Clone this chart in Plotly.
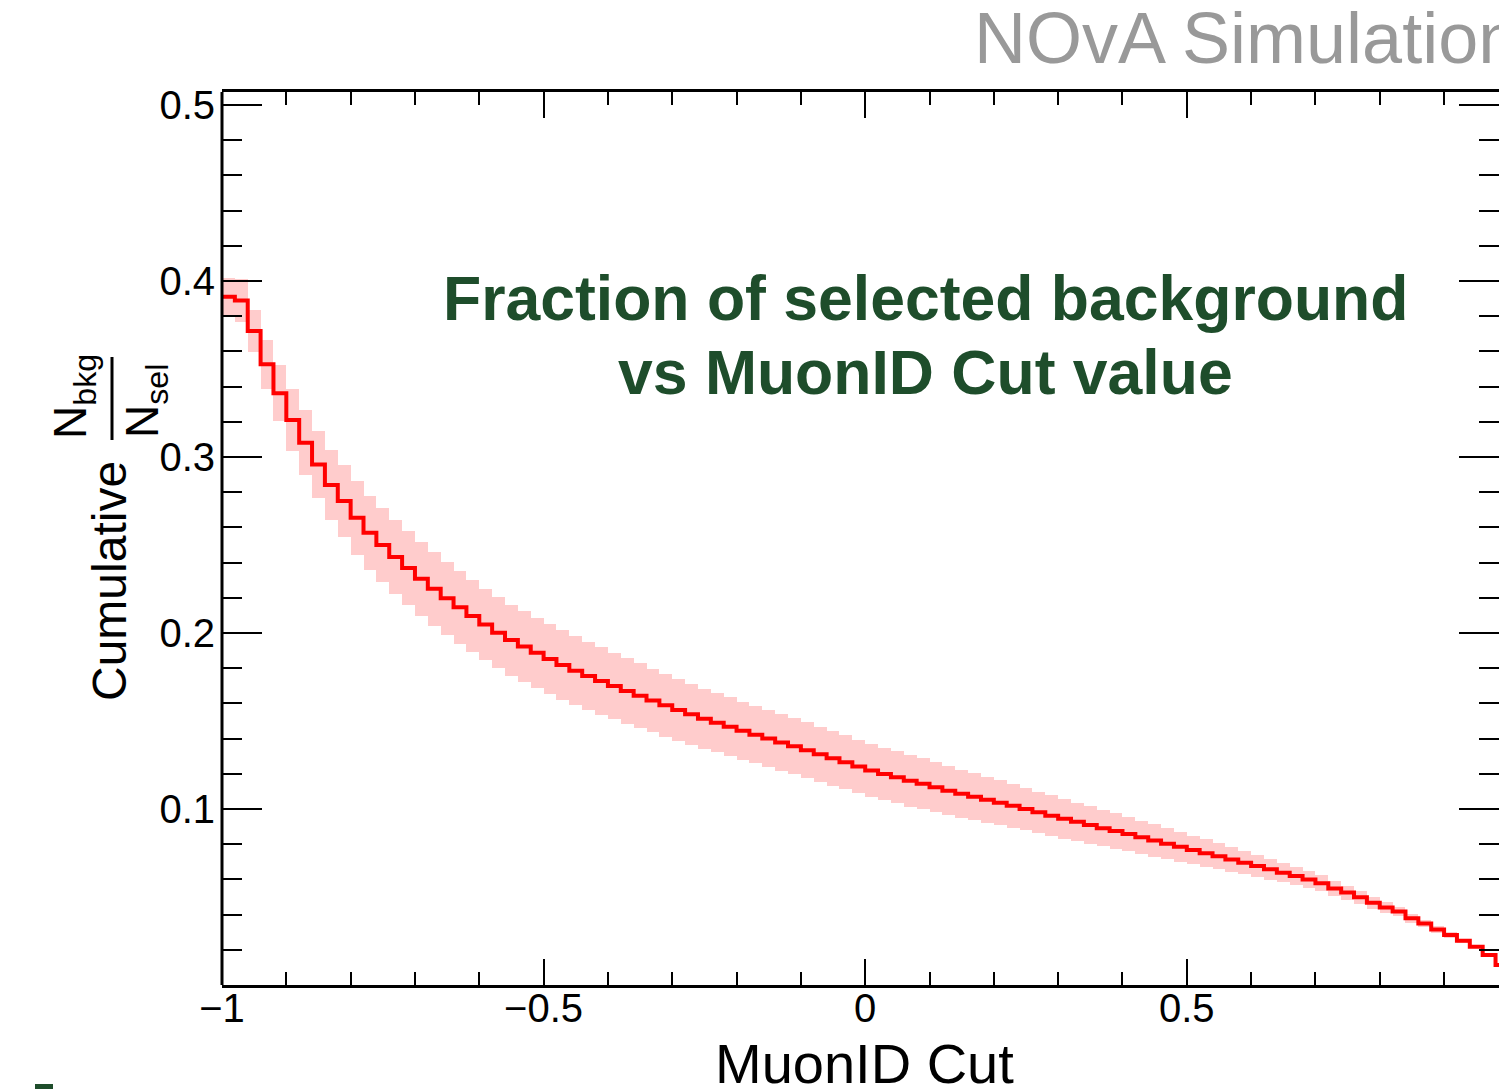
import plotly.graph_objects as go

# ---- data ----
bin_low = -1.0
bin_width = 0.02
n_bins = 100

values = [
    0.391, 0.389, 0.3716, 0.3527, 0.3362, 0.321, 0.3081, 0.2958, 0.2841, 0.275,
    0.2655, 0.257, 0.250, 0.2432, 0.2369, 0.2309, 0.2252, 0.2198, 0.2146, 0.2096,
    0.2048, 0.2002, 0.196, 0.1924, 0.1888, 0.1852, 0.1818, 0.1786, 0.1756, 0.1727,
    0.1699, 0.1671, 0.1644, 0.1616, 0.1589, 0.1563, 0.1538, 0.1513, 0.149, 0.1468,
    0.1445, 0.1422, 0.14, 0.1378, 0.1356, 0.1334, 0.1311, 0.1288, 0.1265, 0.1242,
    0.1219, 0.1199, 0.118, 0.1161, 0.1143, 0.1123, 0.1104, 0.1086, 0.1069, 0.1052,
    0.1035, 0.1018, 0.1, 0.0981, 0.0962, 0.0944, 0.0927, 0.0909, 0.0891, 0.0875,
    0.0858, 0.0839, 0.0821, 0.0803, 0.0785, 0.0767, 0.0749, 0.0731, 0.0713, 0.0695,
    0.0676, 0.0657, 0.0638, 0.0619, 0.0600, 0.0578, 0.0549, 0.0525, 0.0498, 0.0468,
    0.0441, 0.0417, 0.0379, 0.0350, 0.0316, 0.0284, 0.0252, 0.0218, 0.0170, 0.0114,
]

errors = [
    0.011, 0.012, 0.012, 0.014, 0.016, 0.0175, 0.0185, 0.019, 0.020, 0.0205,
    0.021, 0.021, 0.021, 0.021, 0.021, 0.021, 0.021, 0.0208, 0.0206, 0.0205,
    0.0204, 0.0202, 0.0202, 0.0201, 0.020, 0.020, 0.0198, 0.0196, 0.0194, 0.0192,
    0.019, 0.0187, 0.0184, 0.0181, 0.0178, 0.0175, 0.0172, 0.017, 0.0168, 0.0166,
    0.0165, 0.0163, 0.0162, 0.016, 0.0159, 0.0158, 0.0156, 0.0155, 0.0153, 0.0152,
    0.015, 0.0149, 0.0148, 0.0147, 0.0145, 0.0142, 0.0139, 0.0136, 0.0133, 0.013,
    0.0127, 0.0124, 0.0121, 0.0118, 0.0115, 0.0112, 0.0109, 0.0106, 0.0103, 0.01,
    0.0097, 0.0094, 0.0091, 0.0088, 0.0085, 0.0082, 0.0078, 0.0074, 0.007, 0.0066,
    0.0062, 0.0058, 0.0055, 0.0052, 0.0049, 0.0046, 0.0043, 0.004, 0.0037, 0.0034,
    0.003, 0.0027, 0.0024, 0.0021, 0.0018, 0.0015, 0.0012, 0.001, 0.0008, 0.0006,
]

x_tickvals = [-1, -0.5, 0, 0.5]
x_ticktext = ["\u22121", "\u22120.5", "0", "0.5"]
y_tickvals = [0.1, 0.2, 0.3, 0.4, 0.5]
y_ticktext = ["0.1", "0.2", "0.3", "0.4", "0.5"]

# ---- derived ----
edges = [bin_low + bin_width * i for i in range(n_bins + 1)]
centers = [bin_low + bin_width * (i + 0.5) for i in range(n_bins)]
band_base = [v - e for v, e in zip(values, errors)]
band_height = [2 * e for e in errors]

W, H = 1499, 1089
XL, XR, YT, YB = 222, 1499, 92, 985


def px(X):
    return (X - XL) / (XR - XL)


def py(Y):
    return (YB - Y) / (YB - YT)


FONT = "Liberation Sans, Arial, Helvetica, sans-serif"

fig = go.Figure()
fig.add_trace(go.Bar(
    x=centers, y=band_height, base=band_base, width=bin_width,
    marker=dict(color="#ffcccc", line=dict(width=0)),
    hoverinfo="skip", showlegend=False,
))
fig.add_trace(go.Scatter(
    x=edges, y=values + [values[-1]], mode="lines",
    line=dict(color="#ff0000", width=4, shape="hv"),
    showlegend=False,
))

x_end = -1 + (XR - XL) / 643.2

fig.update_layout(
    width=W, height=H,
    margin=dict(l=XL, r=W - XR, t=YT, b=H - YB, pad=0),
    paper_bgcolor="white", plot_bgcolor="white",
    bargap=0, barmode="overlay",
    font=dict(family=FONT, color="black"),
    xaxis=dict(
        range=[-1, x_end], showgrid=False, zeroline=False,
        showline=True, linecolor="black", linewidth=3, mirror="ticks",
        ticks="inside", ticklen=26, tickwidth=2, tickcolor="black",
        tickvals=x_tickvals, ticktext=x_ticktext,
        tickfont=dict(size=40, family=FONT, color="black"),
        ticklabelstandoff=-14,
        minor=dict(ticks="inside", ticklen=13, tickwidth=2, tickcolor="black",
                   dtick=0.1, tick0=-1, showgrid=False),
    ),
    yaxis=dict(
        range=[0, 0.5074], showgrid=False, zeroline=False,
        showline=False, mirror="ticks",
        ticks="inside", ticklen=40, tickwidth=2, tickcolor="black",
        tickvals=y_tickvals, ticktext=y_ticktext,
        tickfont=dict(size=40, family=FONT, color="black"),
        ticklabelstandoff=6,
        minor=dict(ticks="inside", ticklen=20, tickwidth=2, tickcolor="black",
                   dtick=0.02, tick0=0, showgrid=False),
    ),
)

annotations = [
    dict(text="MuonID Cut", x=px(864), y=py(1063), font=dict(size=56, color="black", family=FONT)),
    dict(text="Cumulative", x=px(109), y=py(581), textangle=-90,
         font=dict(size=48, color="black", family=FONT)),
    dict(text="N<sub>bkg</sub>", x=px(73), y=py(397), textangle=-90,
         font=dict(size=46, color="black", family=FONT)),
    dict(text="N<sub>sel</sub>", x=px(146), y=py(401), textangle=-90,
         font=dict(size=46, color="black", family=FONT)),
    dict(text="<b>Fraction of selected background</b>", x=px(925.5), y=py(298),
         font=dict(size=62.5, color="#1e4d2b", family=FONT)),
    dict(text="<b>vs MuonID Cut value</b>", x=px(925.5), y=py(372),
         font=dict(size=62.5, color="#1e4d2b", family=FONT)),
    dict(text="NOvA Simulation", x=px(972), y=py(38), xanchor="left",
         font=dict(size=72, color="#999999", family=FONT)),
]
for a in annotations:
    a.setdefault("xanchor", "center")
    a.setdefault("yanchor", "middle")
    a.update(xref="paper", yref="paper", showarrow=False)
fig.update_layout(annotations=annotations)

# left frame line (the right frame edge lies outside the picture)
fig.add_shape(type="line", xref="paper", yref="paper",
              x0=0, x1=0, y0=0, y1=1, line=dict(color="black", width=3))
# fraction bar of the y title
fig.add_shape(type="line", xref="paper", yref="paper",
              x0=px(112), x1=px(112), y0=py(357), y1=py(440),
              line=dict(color="black", width=3))
fig.add_shape(type="rect", xref="paper", yref="paper",
              x0=px(35), x1=px(53), y0=py(1089), y1=py(1084),
              fillcolor="#1e4d2b", line=dict(width=0))

fig.write_html(
    "out.html",
    config={"displayModeBar": False},
    post_script="document.body.style.margin='0px';document.body.style.padding='0px';"
                "document.body.style.overflow='hidden';",
)
